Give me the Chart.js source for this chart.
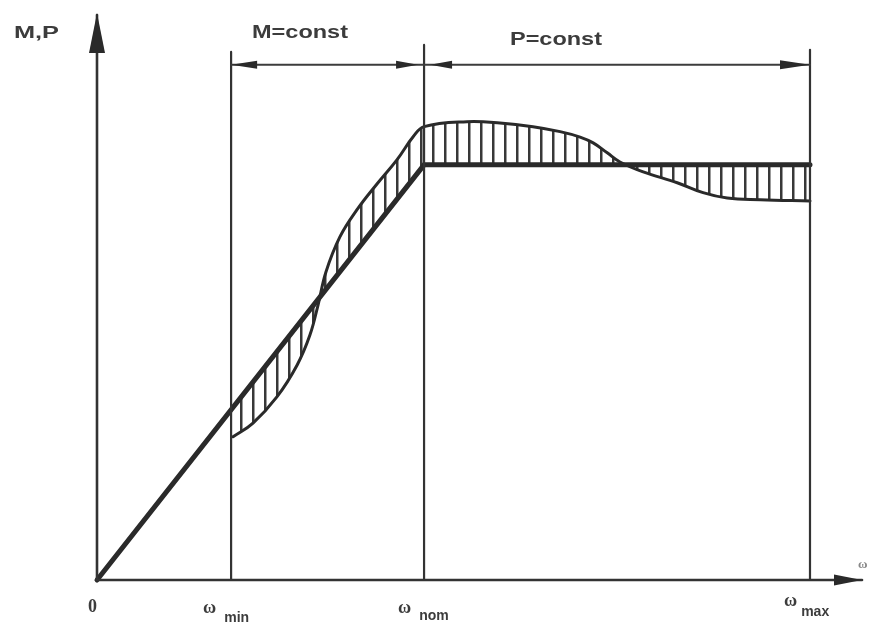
<!DOCTYPE html>
<html>
<head>
<meta charset="utf-8">
<script src="https://cdn.jsdelivr.net/npm/chart.js@4/dist/chart.umd.min.js"></script>
<style>
  html, body { margin: 0; padding: 0; background: #ffffff; }
  #wrap { width: 875px; height: 624px; }
</style>
</head>
<body>
<div id="wrap"><canvas id="c" width="875" height="624"></canvas></div>
<script>
// ---- data (ω relative to ω_nom, M/P relative to nominal) ----
const tickValues = [0, 0.41, 1, 2.18];
const tickMain   = ['0', 'ω', 'ω', 'ω'];
const tickSub    = ['', 'min', 'nom', 'max'];

const idealX = [0, 1, 2.18];
const idealY = [0, 1, 1];

const actualX = [0.416, 0.477, 0.55, 0.612, 0.651, 0.676, 0.7, 0.743, 0.795, 0.856, 0.917, 0.966, 1.0, 1.131, 1.232, 1.333, 1.416, 1.477, 1.517, 1.56, 1.599, 1.67, 1.774, 1.853, 1.927, 2.028, 2.18];
const actualY = [0.345, 0.378, 0.441, 0.518, 0.59, 0.663, 0.742, 0.827, 0.892, 0.954, 1.012, 1.067, 1.092, 1.104, 1.101, 1.092, 1.08, 1.067, 1.053, 1.029, 1.007, 0.983, 0.957, 0.933, 0.92, 0.916, 0.913];

const guideX    = [0.41, 1, 2.18];
const guideTop  = [1.272, 1.289, 1.277];
const dimY      = 1.241;
const zoneNames = ['M=const', 'P=const'];
const axisMaxX  = 2.339;
const axisMaxY  = 1.361;
const axisTitleY = 'M,P';
const axisTitleX = 'ω';

// ---- build ----
const ink = '#2a2a2a';
function pts(xs, ys) { return xs.map((x, i) => ({ x: x, y: ys[i] })); }

function hatch() {
  const c = document.createElement('canvas');
  c.width = 12; c.height = 12;
  const g = c.getContext('2d');
  g.fillStyle = '#383838';
  g.fillRect(0, 0, 2.5, 12);
  return g.createPattern(c, 'repeat');
}
const pattern = hatch();

const datasets = [
  { data: pts(idealX, idealY), borderColor: ink, borderWidth: 5, pointRadius: 0, tension: 0, fill: false, order: 1 },
  { data: pts(actualX, actualY), borderColor: ink, borderWidth: 3, pointRadius: 0,
    tension: 0.4, fill: { target: 0, above: pattern, below: pattern }, order: 2 },
  // axes
  { data: [{ x: 0, y: 0 }, { x: axisMaxX, y: 0 }], borderColor: '#333', borderWidth: 2.6, pointRadius: 0, fill: false },
  { data: [{ x: 0, y: 0 }, { x: 0, y: axisMaxY }], borderColor: '#333', borderWidth: 2.6, pointRadius: 0, fill: false },
  // dimension line
  { data: [{ x: guideX[0], y: dimY }, { x: guideX[2], y: dimY }], borderColor: '#3c3c3c', borderWidth: 2, pointRadius: 0, fill: false }
];
guideX.forEach((gx, i) => {
  datasets.push({ data: [{ x: gx, y: 0 }, { x: gx, y: guideTop[i] }], borderColor: '#333', borderWidth: 2.2, pointRadius: 0, fill: false });
});

function tri(ctx, tipX, tipY, dx, dy, len, half) {
  const bx = tipX - dx * len, by = tipY - dy * len;
  const nx = -dy, ny = dx;
  ctx.beginPath();
  ctx.moveTo(tipX, tipY);
  ctx.lineTo(bx + nx * half, by + ny * half);
  ctx.lineTo(bx - nx * half, by - ny * half);
  ctx.closePath();
  ctx.fill();
}

function fitText(ctx, text, left, right, baseline, font) {
  ctx.font = font;
  const w = ctx.measureText(text).width;
  const s = (right - left) / w;
  ctx.save();
  ctx.translate(left, baseline);
  ctx.scale(s, 1);
  ctx.textAlign = 'left';
  ctx.fillText(text, 0, 0);
  ctx.restore();
}

const deco = {
  id: 'deco',
  afterDatasetsDraw(chart) {
    const ctx = chart.ctx, xs = chart.scales.x, ys = chart.scales.y;
    const X = v => xs.getPixelForValue(v), Y = v => ys.getPixelForValue(v);
    ctx.save();
    ctx.fillStyle = ink;
    // axis arrows
    tri(ctx, X(0), Y(axisMaxY) - 2, 0, -1, 40, 8);
    tri(ctx, X(axisMaxX), Y(0), 1, 0, 28, 5.5);
    // dimension arrows
    const dy = Y(dimY);
    tri(ctx, X(guideX[0]), dy, -1, 0, 26, 4);
    tri(ctx, X(guideX[1]) - 6, dy, 1, 0, 22, 4);
    tri(ctx, X(guideX[1]) + 6, dy, -1, 0, 22, 4);
    tri(ctx, X(guideX[2]), dy, 1, 0, 30, 4.5);
    // texts
    ctx.fillStyle = '#3c3c3c';
    ctx.textBaseline = 'alphabetic';
    fitText(ctx, axisTitleY, 14, 59, 38, 'bold 17px "Liberation Sans", Arial, sans-serif');
    fitText(ctx, zoneNames[0], 252, 348, 38, 'bold 18px "Liberation Sans", Arial, sans-serif');
    fitText(ctx, zoneNames[1], 510, 602, 45, 'bold 19px "Liberation Sans", Arial, sans-serif');
    // x title
    ctx.fillStyle = '#888';
    ctx.font = 'bold 13px "Liberation Serif", serif';
    ctx.textAlign = 'left';
    ctx.fillText(axisTitleX, X(axisMaxX) - 4, Y(0) - 12);
    ctx.fillStyle = '#3c3c3c';
    // tick labels: [dx of symbol, baseline, sub dx, sub baseline shift]
    const offs = [[-9, 612, 0, 0], [-28, 613, 8, 9], [-26, 613, 8, 7], [-26, 606, 4, 10]];
    tickValues.forEach((v, i) => {
      const px = X(v) + offs[i][0];
      ctx.font = 'bold 18px "Liberation Serif", serif';
      ctx.textAlign = 'left';
      ctx.fillText(tickMain[i], px, offs[i][1]);
      if (tickSub[i]) {
        const w = ctx.measureText(tickMain[i]).width;
        ctx.font = 'bold 14px "Liberation Sans", Arial, sans-serif';
        ctx.fillText(tickSub[i], px + w + offs[i][2], offs[i][1] + offs[i][3]);
      }
    });
    ctx.restore();
  }
};

new Chart(document.getElementById('c'), {
  type: 'line',
  data: { datasets: datasets },
  options: {
    responsive: false,
    animation: false,
    clip: false,
    layout: { padding: { left: 97, right: 13, top: 15, bottom: 44 } },
    plugins: { legend: { display: false }, tooltip: { enabled: false } },
    scales: {
      x: { type: 'linear', min: 0, max: axisMaxX, display: false },
      y: { type: 'linear', min: 0, max: axisMaxY, display: false }
    },
    elements: { line: { borderCapStyle: 'round' } }
  },
  plugins: [deco]
});
</script>
</body>
</html>
